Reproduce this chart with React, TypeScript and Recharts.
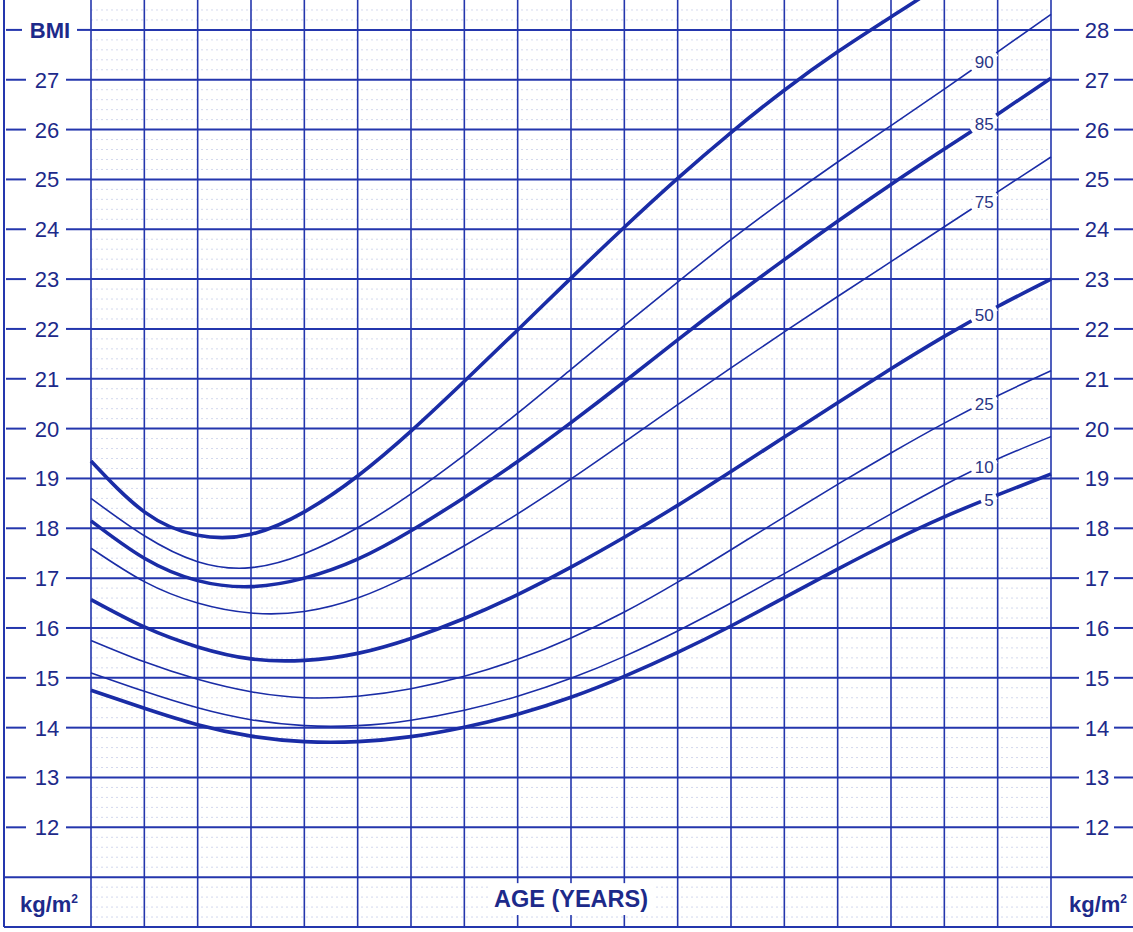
import {
  LineChart,
  Line,
  XAxis,
  YAxis,
  CartesianGrid,
  ReferenceDot,
  ReferenceArea,
} from "recharts";

// BMI-for-age percentiles, boys 2 to 20 years
const AGES = [2, 3, 4, 5, 6, 7, 8, 9, 10, 11, 12, 13, 14, 15, 16, 17, 18, 19, 20];
const P95 = [19.35, 18.33, 17.86, 17.88, 18.33, 19.05, 19.95, 20.95, 21.98, 23.02, 24.04, 25.02, 25.94, 26.79, 27.56, 28.26, 28.96, 29.76, 30.66];
const P90 = [18.6, 17.85, 17.33, 17.21, 17.49, 18.01, 18.69, 19.47, 20.31, 21.19, 22.07, 22.94, 23.79, 24.59, 25.35, 26.08, 26.81, 27.56, 28.31];
const P85 = [18.15, 17.4, 16.95, 16.83, 17.0, 17.38, 17.95, 18.62, 19.34, 20.12, 20.94, 21.78, 22.6, 23.39, 24.16, 24.9, 25.61, 26.31, 27.03];
const P75 = [17.6, 16.93, 16.5, 16.3, 16.33, 16.6, 17.07, 17.65, 18.29, 18.99, 19.73, 20.48, 21.22, 21.94, 22.65, 23.35, 24.05, 24.75, 25.45];
const P50 = [16.57, 16.02, 15.62, 15.38, 15.35, 15.49, 15.79, 16.19, 16.67, 17.22, 17.82, 18.46, 19.14, 19.83, 20.52, 21.2, 21.85, 22.45, 23.0];
const P25 = [15.75, 15.32, 14.97, 14.72, 14.6, 14.63, 14.78, 15.03, 15.37, 15.8, 16.32, 16.92, 17.57, 18.23, 18.88, 19.51, 20.11, 20.66, 21.16];
const P10 = [15.1, 14.73, 14.4, 14.16, 14.04, 14.04, 14.15, 14.35, 14.63, 14.99, 15.43, 15.94, 16.5, 17.09, 17.69, 18.29, 18.87, 19.39, 19.84];
const P5 = [14.75, 14.39, 14.06, 13.83, 13.72, 13.72, 13.82, 14.01, 14.27, 14.61, 15.03, 15.51, 16.04, 16.61, 17.18, 17.73, 18.23, 18.67, 19.09];

const BMI_TICKS = [10, 11, 12, 13, 14, 15, 16, 17, 18, 19, 20, 21, 22, 23, 24, 25, 26, 27, 28];
const LABEL_AGE = 19;

const SERIES = [
  { key: "p95", values: P95, thick: true, label: "" },
  { key: "p90", values: P90, thick: false, label: "90" },
  { key: "p85", values: P85, thick: true, label: "85" },
  { key: "p75", values: P75, thick: false, label: "75" },
  { key: "p50", values: P50, thick: true, label: "50" },
  { key: "p25", values: P25, thick: false, label: "25" },
  { key: "p10", values: P10, thick: false, label: "10" },
  { key: "p5", values: P5, thick: true, label: "5" },
];

const data = AGES.map((age, i) => {
  const row: Record<string, number> = { age };
  SERIES.forEach((s) => (row[s.key] = s.values[i]));
  return row;
});

// faint dotted lines every 0.2 kg/m2
const MINOR = Array.from({ length: 93 }, (_, i) => Math.round((10.2 + i * 0.2) * 10) / 10).filter(
  (v) => v % 1 !== 0 && v < 28.6
);

// layout
const W = 1133;
const H = 932;
const EDGE = 4;
const PLOT_L = 91;
const PLOT_R = 1051;
const PLOT_H = 927;
const Y_MAX = 28.6;
const PX_PER_BMI = PLOT_H / (Y_MAX - 10);
const PX_PER_YEAR = (PLOT_R - PLOT_L) / 18;

const GRID = "#2436ad";
const CURVE = "#1a2ca6";
const INK = "#1d2a8a";
const FONT = "'Liberation Sans', Arial, Helvetica, sans-serif";

const LeftTick = (props: any) => {
  const { y, payload } = props;
  const v = payload.value;
  if (v <= 11) {
    return (
      <g>
        <line x1={EDGE} x2={PLOT_L} y1={y} y2={y} stroke={GRID} strokeWidth={2} />
        {v === 10 && (
          <>
            <line x1={EDGE} x2={EDGE} y1={0} y2={y} stroke={GRID} strokeWidth={2} />
            <text x={49} y={y - 15} textAnchor="middle" fontFamily={FONT} fontWeight="bold" fontSize={22} fill={INK}>
              kg/m<tspan dy={-9} fontSize={12}>2</tspan>
            </text>
          </>
        )}
      </g>
    );
  }
  if (v === 28) {
    return (
      <g>
        <line x1={6} x2={22} y1={y} y2={y} stroke={GRID} strokeWidth={2} />
        <text x={50} y={y} dy="0.36em" textAnchor="middle" fontFamily={FONT} fontWeight="bold" fontSize={22} fill={INK}>
          BMI
        </text>
        <line x1={77} x2={PLOT_L} y1={y} y2={y} stroke={GRID} strokeWidth={2} />
      </g>
    );
  }
  return (
    <g>
      <line x1={6} x2={26} y1={y} y2={y} stroke={GRID} strokeWidth={2} />
      <text x={47} y={y} dy="0.36em" textAnchor="middle" fontFamily={FONT} fontSize={22} fill={INK}>
        {v}
      </text>
      <line x1={66} x2={PLOT_L} y1={y} y2={y} stroke={GRID} strokeWidth={2} />
    </g>
  );
};

const RightTick = (props: any) => {
  const { y, payload } = props;
  const v = payload.value;
  if (v <= 11) {
    return (
      <g>
        <line x1={PLOT_R} x2={W} y1={y} y2={y} stroke={GRID} strokeWidth={2} />
        {v === 10 && (
          <text x={1098} y={y - 15} textAnchor="middle" fontFamily={FONT} fontWeight="bold" fontSize={22} fill={INK}>
            kg/m<tspan dy={-9} fontSize={12}>2</tspan>
          </text>
        )}
      </g>
    );
  }
  return (
    <g>
      <line x1={PLOT_R} x2={1079} y1={y} y2={y} stroke={GRID} strokeWidth={2} />
      <text x={1097} y={y} dy="0.36em" textAnchor="middle" fontFamily={FONT} fontSize={22} fill={INK}>
        {v}
      </text>
      <line x1={1114} x2={W} y1={y} y2={y} stroke={GRID} strokeWidth={2} />
    </g>
  );
};

// percentile tag sitting in a gap of its curve, just left of the age-19 line
const PctTag = ({ cx, cy, text, slope }: { cx: number; cy: number; text: string; slope: number }) => {
  const w = text.length * 9.5;
  const right = cx - 4;
  const left = right - w;
  const mid = (left + right) / 2;
  const yAt = (x: number) => cy + (cx - x) * slope;
  const ty = yAt(mid) + 1;
  return (
    <g>
      <line x1={left - 3} y1={yAt(left - 3)} x2={cx - 1.5} y2={yAt(cx - 1.5)} stroke="#fff" strokeWidth={7} />
      <rect x={left - 1} y={ty - 7} width={w + 2} height={14} fill="#fff" />
      <text x={mid} y={ty} dy="0.36em" textAnchor="middle" fontFamily={FONT} fontSize={17} fill="#2a3686">
        {text}
      </text>
    </g>
  );
};

const AgeBox = (props: any) => {
  const { x, y, width, height } = props;
  return (
    <g>
      <rect x={x} y={y} width={width} height={height} fill="#fff" />
      <text x={x + width / 2} y={y + height / 2 + 8} textAnchor="middle" fontFamily={FONT} fontWeight="bold" fontSize={23.5} fill={INK}>
        AGE (YEARS)
      </text>
    </g>
  );
};

export default function App() {
  const li = AGES.indexOf(LABEL_AGE);
  return (
    <div style={{ width: W, height: H, background: "#fff" }}>
      <style>{"body{margin:0}"}</style>
      <LineChart width={W} height={H} data={data} margin={{ top: 0, right: 0, bottom: H - PLOT_H, left: 0 }}>
        <CartesianGrid
          horizontalValues={MINOR}
          vertical={false}
          stroke="#d3d8ee"
          strokeWidth={1}
          strokeDasharray="2 3"
        />
        <CartesianGrid horizontal={false} stroke={GRID} strokeWidth={1.6} />
        <CartesianGrid vertical={false} horizontalValues={BMI_TICKS} stroke={GRID} strokeWidth={2} />
        <XAxis dataKey="age" type="number" domain={[2, 20]} ticks={AGES} hide />
        <YAxis
          type="number"
          domain={[10, Y_MAX]}
          allowDataOverflow
          ticks={BMI_TICKS}
          interval={0}
          width={PLOT_L}
          axisLine={false}
          tickLine={false}
          tick={<LeftTick />}
        />
        <YAxis
          yAxisId="r"
          orientation="right"
          type="number"
          domain={[10, Y_MAX]}
          allowDataOverflow
          ticks={BMI_TICKS}
          interval={0}
          width={W - PLOT_R}
          axisLine={false}
          tickLine={false}
          tick={<RightTick />}
        />
        <ReferenceArea x1={9.45} x2={12.55} y1={10.24} y2={10.88} shape={<AgeBox />} ifOverflow="visible" />
        {SERIES.map((s) => (
          <Line
            key={s.key}
            type="natural"
            dataKey={s.key}
            stroke={CURVE}
            strokeWidth={s.thick ? 3.6 : 1.6}
            dot={false}
            activeDot={false}
            isAnimationActive={false}
          />
        ))}
        {SERIES.filter((s) => s.label).map((s) => {
          const slope = ((s.values[li] - s.values[li - 1]) * PX_PER_BMI) / PX_PER_YEAR;
          return (
            <ReferenceDot
              key={"lbl" + s.key}
              x={LABEL_AGE}
              y={s.values[li]}
              r={0}
              ifOverflow="visible"
              shape={(p: any) => <PctTag cx={p.cx} cy={p.cy} text={s.label} slope={slope} />}
            />
          );
        })}
      </LineChart>
    </div>
  );
}
